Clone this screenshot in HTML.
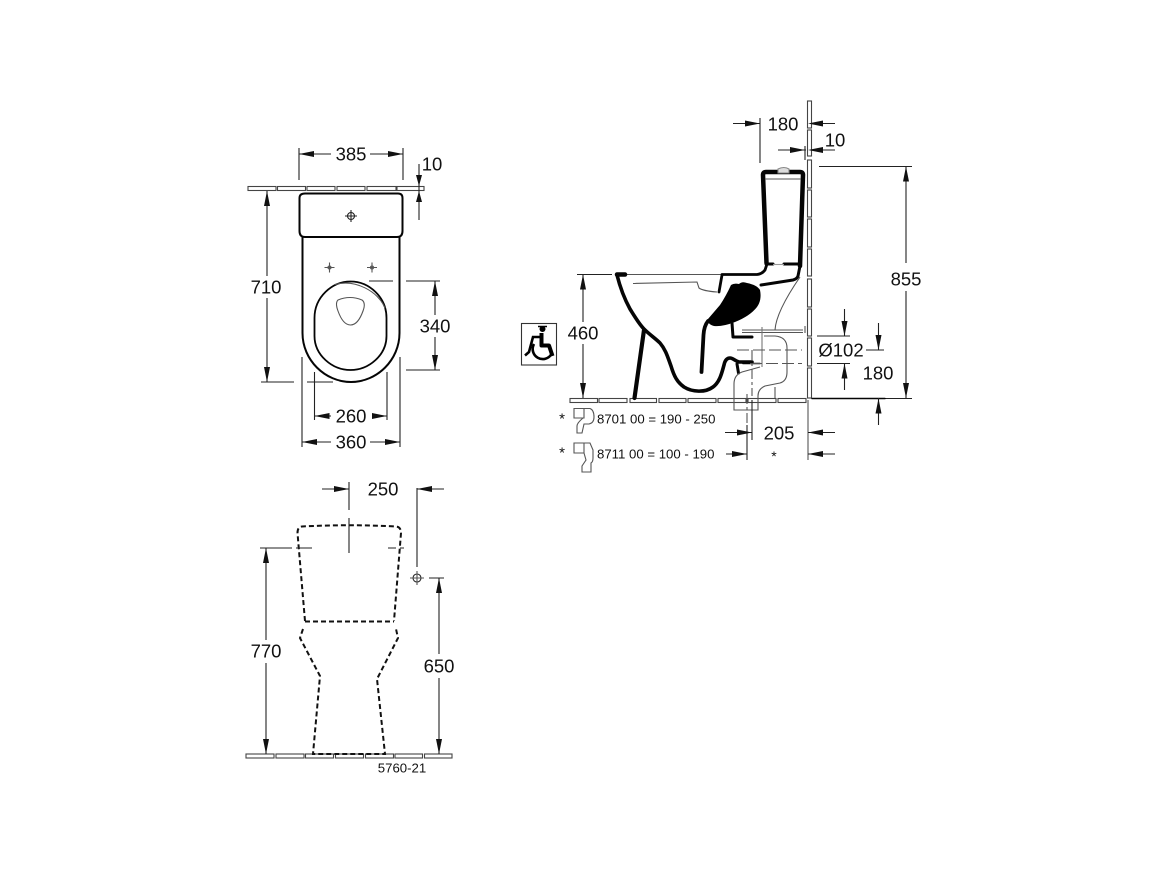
<!DOCTYPE html>
<html><head><meta charset="utf-8"><style>
html,body{margin:0;padding:0;background:#fff}
svg{display:block;filter:blur(.3px)}
text{font-family:"Liberation Sans",sans-serif;fill:#111;text-anchor:middle;dominant-baseline:central}
.d{font-size:18.500px}
.s{font-size:13.200px}
.l{stroke:#222;stroke-width:1.100;fill:none}
.w{stroke:#444;stroke-width:1.100;fill:#fff}
.k{stroke:#050505;fill:none;stroke-linejoin:round;stroke-linecap:round}
.g{stroke:#555;stroke-width:1.100;fill:none}
.a{fill:#111;stroke:none}
.da{stroke:#111;stroke-width:2;fill:none;stroke-dasharray:5 3}
</style></head><body>
<svg width="1168" height="876" viewBox="0 0 1168 876" xmlns="http://www.w3.org/2000/svg">

<!-- TOP VIEW -->
<g class="w">
<rect x="248" y="186.500" width="28" height="4"/><rect x="277.500" y="186.500" width="28" height="4"/><rect x="307" y="186.500" width="28" height="4"/><rect x="337" y="186.500" width="28" height="4"/><rect x="367" y="186.500" width="29" height="4"/><rect x="397" y="186.500" width="27" height="4"/>
</g>
<path class="k" stroke-width="2" d="M305 193.500H398Q402.500 193.500 402.500 198V231Q402.500 237 397 237H305Q299.500 237 299.500 231V198Q299.500 193.500 305 193.500Z"/>
<path class="k" stroke-width="2" d="M302.500 237V333C302.500 360 325 382 351 382C377 382 399.500 360 399.500 333V237"/>
<path class="k" stroke-width="1.800" d="M350.500 281.500C369 281.500 386.500 297 386.500 318V336C386.500 355 369 370 350.500 370C332 370 314.500 355 314.500 336V318C314.500 297 332 281.500 350.500 281.500Z"/>
<path d="M335 284.500C355 279 378 291 385 308" class="g" stroke-width="1.500"/>
<path class="g" d="M338 300Q350 295 362 300Q366 303 363 311Q358 325 350.500 325Q343 325 338 311Q335 303 338 300Z"/>
<circle cx="351" cy="216" r="3.500" class="l"/>
<path class="l" d="M351 210V222M345 216H357"/>
<circle cx="329.500" cy="267.500" r="1.500" class="g"/><path class="g" d="M329.500 262.500V272.500M324.500 267.500H334.500"/>
<circle cx="372" cy="267.500" r="1.500" class="g"/><path class="g" d="M372 262.500V272.500M367 267.500H377"/>

<!-- top dims -->
<path class="l" d="M299 148V180M403 148V180M299 154H331M370 154H403"/>
<path class="a" d="M299 154l15-3v6zM403 154l-15-3v6z"/>
<text class="d" x="351" y="154">385</text>
<path class="l" d="M419 164V220"/>
<path class="a" d="M419 186l-3-11h6zM419 191l-3 11h6z"/>
<text class="d" x="432" y="164">10</text>
<path class="l" d="M267 191V276M267 298V382M261 382H294M307 382H333"/>
<path class="a" d="M267 191l-3 15h6zM267 382l-3-15h6z"/>
<text class="d" x="266" y="287">710</text>
<path class="l" d="M435 281V315M435 337V370M369 281H393M406 281H440M406 370H440"/>
<path class="a" d="M435 281l-3 15h6zM435 370l-3-15h6z"/>
<text class="d" x="435" y="326">340</text>
<path class="l" d="M314.500 372V420M387 372V420M314.500 416H331M372 416H387"/>
<path class="a" d="M314.500 416l15-3v6zM387 416l-15-3v6z"/>
<text class="d" x="351" y="416">260</text>
<path class="l" d="M302 357V447M400 357V447M302 442H331M370 442H400"/>
<path class="a" d="M302 442l15-3v6zM400 442l-15-3v6z"/>
<text class="d" x="351" y="442">360</text>

<!-- FRONT VIEW -->
<g class="w">
<rect x="246" y="754" width="28" height="4"/><rect x="276" y="754" width="28" height="4"/><rect x="305.500" y="754" width="28" height="4"/><rect x="335.500" y="754" width="28" height="4"/><rect x="365.500" y="754" width="28" height="4"/><rect x="395" y="754" width="27.500" height="4"/><rect x="424.500" y="754" width="27.500" height="4"/>
</g>
<path class="da" d="M305 621L297.500 533Q297.500 527 302 526.500Q349 524 396 526.500Q401 527 401 533L394 621"/>
<path class="da" d="M305 621.500H394"/>
<path class="da" d="M303 629L300 638L320 676L313 754H385L377 679L398 638L396 629"/>
<path class="l" d="M349 482V510M349 518V553"/>
<path class="l" d="M322 489H349M417 488V567M417 489H444"/>
<path class="a" d="M349 489l-15-3v6zM417 489l15-3v6z"/>
<text class="d" x="383" y="489">250</text>
<circle cx="417" cy="578" r="4" class="l" stroke-width="1.300"/>
<path class="g" d="M410 578H424M417 571V585"/>
<path class="l" d="M429 578H444M439 578V654M439 678V754"/>
<path class="a" d="M439 578l-3 15h6zM439 754l-3-15h6z"/>
<text class="d" x="439" y="666">650</text>
<path class="l" d="M260 548H292M296 548H312M388 548H396M400 548H404M266 548V640M266 663V754"/>
<path class="a" d="M266 548l-3 15h6zM266 754l-3-15h6z"/>
<text class="d" x="266" y="651">770</text>
<text class="s" x="402" y="768">5760-21</text>

<!-- SIDE VIEW wall -->
<g class="w">
<rect x="570" y="398.500" width="27.500" height="4"/><rect x="599" y="398.500" width="28" height="4"/><rect x="630" y="398.500" width="26.500" height="4"/><rect x="659" y="398.500" width="27" height="4"/><rect x="688" y="398.500" width="28" height="4"/><rect x="718" y="398.500" width="28" height="4"/><rect x="748" y="398.500" width="28" height="4"/><rect x="778" y="398.500" width="28" height="4"/>
<rect x="807.500" y="101" width="4" height="27"/><rect x="807.500" y="130" width="4" height="26"/><rect x="807.500" y="160" width="4" height="28"/><rect x="807.500" y="190" width="4" height="27"/><rect x="807.500" y="219" width="4" height="28"/><rect x="807.500" y="249" width="4" height="27"/><rect x="807.500" y="279" width="4" height="28"/><rect x="807.500" y="309" width="4" height="27"/><rect x="807.500" y="338" width="4" height="28"/><rect x="807.500" y="368" width="4" height="30"/>
</g>

<!-- tank -->
<path class="k" stroke-width="4.500" d="M766.500 263L763 175Q763 172 766 172H800Q803 172 803 175L800 266"/>
<path class="g" d="M765 179H801"/>
<path class="g" style="stroke:#888;fill:#ddd" d="M778 173V169Q784 166 789 169V173Z"/>
<path class="k" stroke-width="3" d="M766 264H773M784 264H800"/>
<path class="g" style="stroke:#999" stroke-width="3" d="M773 264.500H784"/>
<path class="k" stroke-width="2.800" d="M722 274.500H757Q762 274 765 270L767 264"/>
<path class="k" stroke-width="3" d="M800 266L798 276Q797 279 793 280L761 285"/>
<!-- bowl -->
<path class="g" stroke-width="1.300" d="M626 274.500H722"/>
<path class="k" stroke-width="2.800" d="M722 275L719 292"/>
<path class="g" d="M633 283.500L697 282L699 288Q703 291 717 292"/>
<path fill="#000" d="M731 285Q734 283 739 284Q742 281 747 283Q757 285 760 290Q762 300 757 307Q750 316 735 322Q722 327 714 326Q707 324 708 319Q714 312 720 305Q726 296 731 285Z"/>
<path class="k" stroke-width="3.800" fill="none" d="M708 321Q704 326 703.500 335L701.500 372"/>
<path class="k" stroke-width="3.600" d="M617 275C620 287 624 298 630 309C635 317 639 324 644 329C650 335 655 338 660 343C666 350 668 358 671 366C674 376 677 382 684 387C692 392 705 393 713 387C720 382 722 372 724 365C725 360 727 358 730 358C733 358 735 361 739 362H752"/>
<path class="k" stroke-width="4.500" d="M617 274.500H625"/>
<path class="k" stroke-width="4.200" d="M644 330L634.500 398"/>
<path class="k" stroke-width="3" d="M732 323L733 337H752"/>
<path class="k" stroke-width="3" d="M737 364L738.500 373"/>
<path class="k" stroke-width="1.600" d="M743 363.500H760"/>
<!-- pipe -->
<path class="g" d="M742 330H803M742 332.500H803"/>
<path d="M805 326V333" class="g" stroke-width="2"/>
<path class="g" style="stroke:#777" stroke-width="3.200" d="M762 327V367"/>
<path class="g" d="M775 330Q776 312 800 277"/>
<path class="g" d="M760 367L742 372Q734 375 734 384V410H758V396Q758 389 765 386L780 383Q787 381 787 372V348Q787 337 775 336L764 336"/>
<path class="g" d="M775 387V398"/>
<path class="l" style="stroke:#555" stroke-dasharray="12 4" d="M737 350H802M750 363.500H802"/>
<path class="l" style="stroke:#555" stroke-dasharray="10 3 3 3" d="M747 394V425M752 350V396"/>

<!-- side dims -->
<path class="l" d="M733 123.500H760M760 118V163M812 123.500H835"/>
<path class="a" d="M760 123.500l-15-3v6zM808 123.500l15-3v6z"/>
<text class="d" x="783" y="124">180</text>
<path class="l" d="M778 150H806M805 146V160M811 150H835"/>
<path class="a" d="M805 150l-15-3v6zM808 150l15-3v6z"/>
<text class="d" x="835" y="140">10</text>
<path class="l" d="M819 166.500H912M906 166.500V263M906 291V398M812 398.500H912"/>
<path class="k" stroke-width="1.500" d="M812 398.500H885"/>
<path class="a" d="M906 166.500l-3 15h6zM906 398l-3-15h6z"/>
<text class="d" x="906" y="279">855</text>
<path class="l" d="M583 274V322M583 344V398M577 274.500H612"/>
<path class="a" d="M583 274.500l-3 15h6zM583 398l-3-15h6z"/>
<text class="d" x="583" y="333">460</text>
<path class="l" d="M844.500 309V336M817 336H850M817 363.500H850M844.500 363.500V390"/>
<path class="a" d="M844.500 336l-3-15h6zM844.500 363.500l-3 15h6z"/>
<text class="d" x="841" y="350">Ø102</text>
<path class="l" d="M878.500 323V350M866 350H884M878.500 398V425"/>
<path class="a" d="M878.500 350l-3-15h6zM878.500 398.500l-3 15h6z"/>
<text class="d" x="878" y="373">180</text>
<path class="g" d="M808 400V460"/>
<path class="l" d="M725 432.500H752M752 400V440M808 432.500H835M726 454H747M747 425V460M808 454H835"/>
<path class="a" d="M752 432.500l-15-3v6zM747 454l-15-3v6zM808 432.500l15-3v6zM808 454l15-3v6z"/>
<text class="d" x="779" y="433">205</text>
<text x="774" y="456" style="font-size:14px">*</text>

<!-- icon -->
<rect x="521.500" y="323.500" width="35" height="41.500" fill="#fff" stroke="#333" stroke-width="1.100"/>
<circle cx="542.500" cy="329" r="3" fill="#000"/>
<path d="M538 326.500H547" stroke="#000" stroke-width="1.500"/>
<path d="M541.500 333V345.500H549L552.500 356" fill="none" stroke="#000" stroke-width="4" stroke-linejoin="round"/>
<path d="M542 337H533L529 352L525 355.500" fill="none" stroke="#000" stroke-width="2.600"/>
<path d="M534 344A9.500 9.500 0 1 0 551.500 354" fill="none" stroke="#000" stroke-width="2.600"/>

<!-- siphon notes -->
<text x="562" y="419" style="font-size:15px">*</text>
<text x="562" y="453" style="font-size:15px">*</text>
<path class="g" stroke-width="1.200" d="M574 408.500H584V418H574ZM584 408.500H590Q594 410 594 417Q594 423 589 424H584L582 433H577V426Q577 423 583 418"/>
<path class="g" stroke-width="1.200" d="M574 443H584V453H574ZM584 443H590L593 450V458Q593 462 591 463L591 472H582L582 466L586 460L584 453"/>
<text class="s" x="597" y="419" style="text-anchor:start">8701 00 = 190 - 250</text>
<text class="s" x="597" y="454" style="text-anchor:start">8711 00 =  100 - 190</text>
</svg>
</body></html>
